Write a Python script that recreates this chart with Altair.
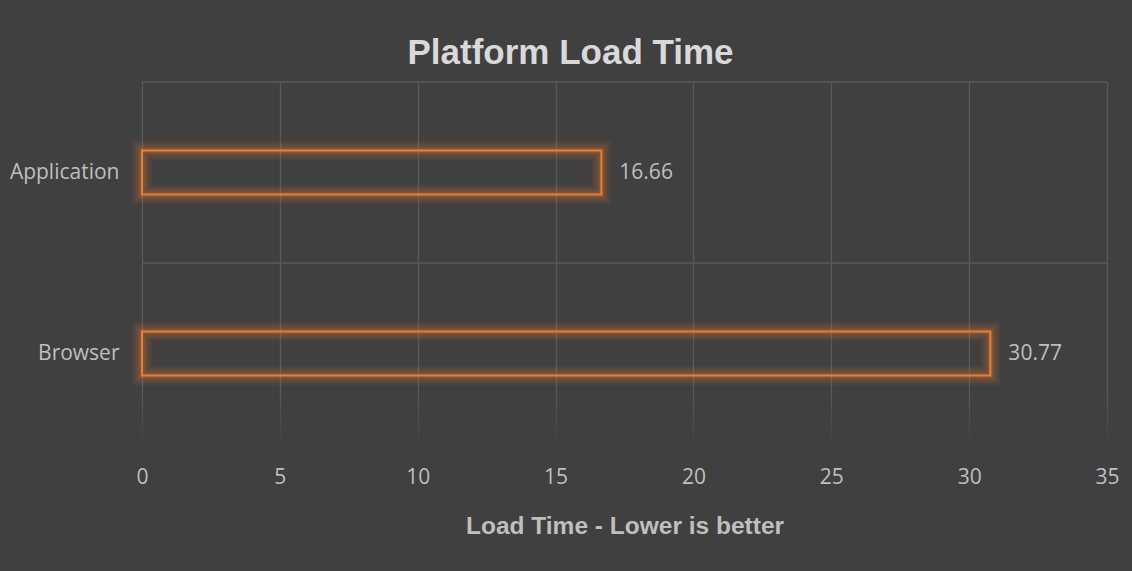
import altair as alt
import pandas as pd

categories = ["Application", "Browser"]
load_times = [16.66, 30.77]
x_ticks = [0, 5, 10, 15, 20, 25, 30, 35]

df = pd.DataFrame({"platform": categories, "load": load_times})

BG = "#404040"
ORANGE = "#ED7D31"
GRID = "#5A5A5A"
LABEL = "#BFBFBF"

x_scale = alt.Scale(domain=[0, 35], nice=False, zero=True)
y_scale = alt.Scale(domain=categories, paddingInner=0, paddingOuter=0)

x_enc = alt.X(
    "load:Q",
    scale=x_scale,
    axis=alt.Axis(
        values=x_ticks,
        title="Load Time - Lower is better",
        grid=True,
        gridColor=GRID,
        gridWidth=1.3,
        domain=False,
        ticks=False,
        labelFlush=False,
        labelPadding=22,
        labelFontSize=21,
        labelColor=LABEL,
        labelFont="Open Sans",
        titleFont="Liberation Sans",
        titleFontSize=24.5,
        titleFontWeight="bold",
        titleColor=LABEL,
        titlePadding=27,
    ),
)
y_enc = alt.Y(
    "platform:N",
    scale=y_scale,
    sort=categories,
    axis=alt.Axis(
        title=None,
        domain=False,
        ticks=False,
        grid=False,
        labelPadding=23,
        labelFontSize=21,
        labelColor=LABEL,
        labelFont="Open Sans",
    ),
)

base = alt.Chart(df)

rules = base.mark_rule(color=GRID, strokeWidth=1.3).encode(
    y=alt.Y("platform:N", bandPosition=0, scale=y_scale, sort=categories)
)

glow_layers = []
for sw, op in [(20, 0.06), (16, 0.07), (12, 0.08), (8, 0.1), (5, 0.13)]:
    glow_layers.append(
        base.mark_bar(size=44, fillOpacity=0, stroke=ORANGE, strokeWidth=sw, strokeOpacity=op).encode(
            x=x_enc, y=y_enc
        )
    )

bars = base.mark_bar(size=44, fillOpacity=0, stroke=ORANGE, strokeWidth=2).encode(x=x_enc, y=y_enc)

labels = base.mark_text(
    align="left", baseline="middle", dx=18, fontSize=21, font="Open Sans", color=LABEL
).encode(
    x=alt.X("load:Q", scale=x_scale),
    y=alt.Y("platform:N", scale=y_scale, sort=categories),
    text=alt.Text("load:Q", format=".2f"),
)

fade = alt.Chart(pd.DataFrame({"a": [0]})).mark_rect(
    fill=alt.LinearGradient(
        gradient="linear",
        stops=[
            alt.GradientStop(color="rgba(64,64,64,0)", offset=0),
            alt.GradientStop(color="rgba(64,64,64,1)", offset=1),
        ],
        x1=0, x2=0, y1=0, y2=1,
    )
).encode(x=alt.value(-2), x2=alt.value(968), y=alt.value(308), y2=alt.value(366))

chart = alt.layer(rules, *glow_layers, bars, labels, fade).properties(
    width=965,
    height=362,
    title=alt.TitleParams(
        "Platform Load Time",
        font="Liberation Sans",
        fontSize=35,
        fontWeight="bold",
        color="#D9D9D9",
        anchor="middle",
        dx=-54,
        dy=35,
        offset=17,
        baseline="alphabetic",
    ),
    autosize=alt.AutoSizeParams(type="none"),
    padding={"left": 142, "top": 82, "right": 25, "bottom": 127},
    background=BG,
).configure_view(stroke=None)

chart.save("out.html", embed_options={"renderer": "svg", "actions": False})
